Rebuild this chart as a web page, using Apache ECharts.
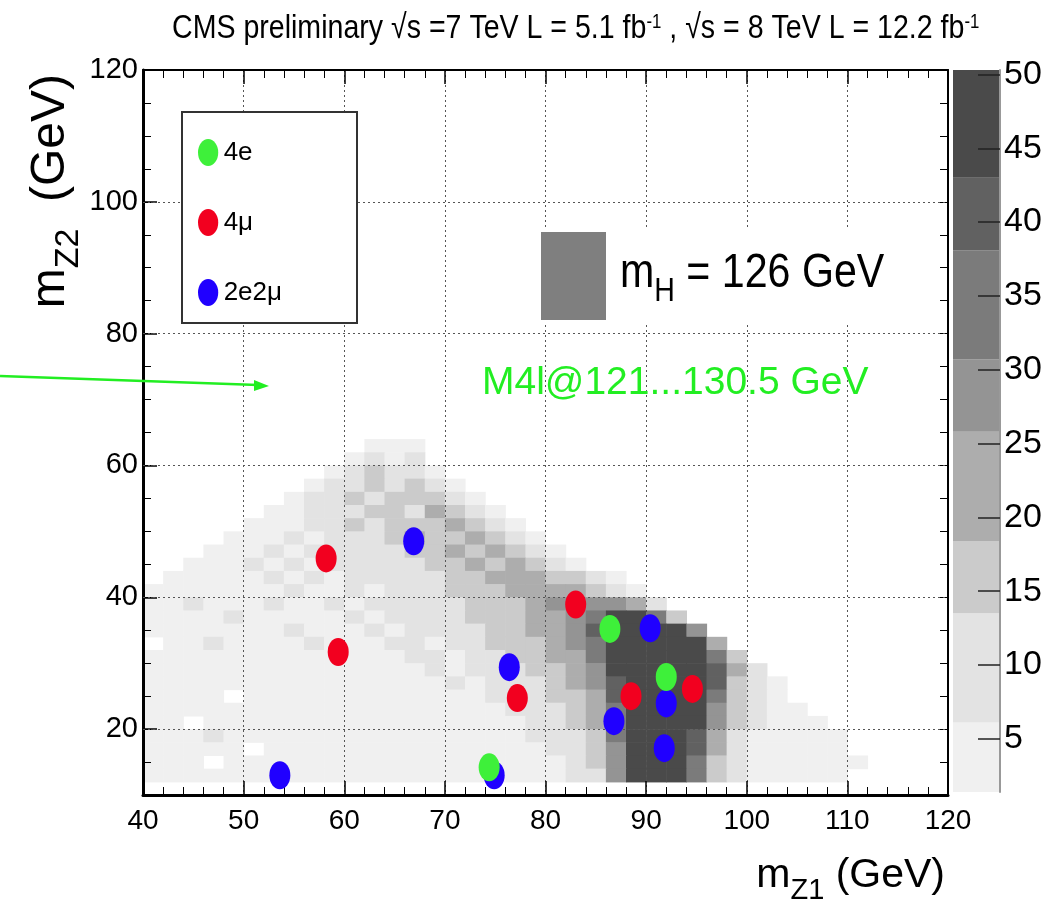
<!DOCTYPE html>
<html><head><meta charset="utf-8">
<script src="https://cdn.jsdelivr.net/npm/echarts@6/dist/echarts.min.js"></script>
<style>html,body{margin:0;padding:0;background:#fff}#c{width:1055px;height:914px}</style>
</head><body><div id="c"></div>
<script>
// ---------------- data ----------------
// 2D histogram (m_Z1, m_Z2), 2x2 GeV bins, contour level code per bin (0 = empty).
// Rows from top (m_Z2 62-64) to bottom (m_Z2 12-14); columns m_Z1 40-42 ... 118-120.
const xBinStart = 40, yBinStart = 12, binW = 2, binH = 2;
const hRows = [
  "0000000000" + "0111000000" + "0000000000" + "0000000000", // 62
  "0000000000" + "1212000000" + "0000000000" + "0000000000", // 60
  "0000000001" + "2322100000" + "0000000000" + "0000000000", // 58
  "0000000012" + "2323210000" + "0000000000" + "0000000000", // 56
  "0000000122" + "3233321000" + "0000000000" + "0000000000", // 54
  "0000001122" + "2332432100" + "0000000000" + "0000000000", // 52
  "0000011122" + "3233343210" + "0000000000" + "0000000000", // 50
  "0000111212" + "2234334321" + "0000000000" + "0000000000", // 48
  "0001112122" + "2223343432" + "1000000000" + "0000000000", // 46
  "0011121212" + "2222334343" + "2100000000" + "0000000000", // 44
  "0111112121" + "2222233444" + "3321000000" + "0000000000", // 42
  "1111111211" + "2122233344" + "4432100000" + "0000000000", // 40
  "1121112112" + "1222223334" + "5555420000" + "0000000000", // 38
  "1111211111" + "2122223334" + "4568863000" + "0000000000", // 36
  "1111111211" + "1212222334" + "4578888500" + "0000000000", // 34
  "0112111121" + "1122122333" + "4568888840" + "0000000000", // 32
  "1111111111" + "1112212233" + "4468888863" + "0000000000", // 30
  "1111111111" + "1111212223" + "3458888874" + "2000000000", // 28
  "1111111111" + "1111121222" + "3457888873" + "2100000000", // 26
  "1111011111" + "1111111222" + "3347888863" + "2100000000", // 24
  "1111111111" + "1111111122" + "2346888853" + "2110000000", // 22
  "1101111111" + "1111111112" + "2346888853" + "2111000000", // 20
  "1112111111" + "1111111112" + "2236888742" + "1111100000", // 18
  "1111101111" + "1111111111" + "2235888742" + "1111100000", // 16
  "1110111111" + "1111111111" + "1235888632" + "1111110000", // 14
  "1111111111" + "1111111111" + "1225888632" + "1111100000"  // 12
];
// colour-scale contour boundaries (events per bin)
const contourLevels = [1.4, 6.1, 13.5, 18.4, 25.8, 30.7, 38.1, 43.0, 50.3];
const zTicks = [5, 10, 15, 20, 25, 30, 35, 40, 45, 50];
const xTicks = [40, 50, 60, 70, 80, 90, 100, 110, 120];
const yTicks = [20, 40, 60, 80, 100, 120];
const yGrid = [20, 40, 60, 80, 100];
// candidate events (m_Z1, m_Z2)
const pts4e = [[86.4, 35.2], [92.0, 27.9], [74.4, 14.2]];
const pts4mu = [[58.2, 45.9], [59.4, 31.7], [83.0, 38.9], [77.2, 24.7], [88.5, 25.0], [94.6, 26.1]];
const pts2e2mu = [[66.9, 48.5], [53.6, 13.0], [74.9, 13.0], [76.4, 29.4], [90.4, 35.3], [86.8, 21.2], [92.0, 23.9], [91.8, 17.1]];
const seriesNames = ['4e', '4\u03bc', '2e2\u03bc'];
const titleText = 'CMS preliminary \u221as =7 TeV L = 5.1 fb{sup|-1} , \u221as = 8 TeV L = 12.2 fb{sup|-1}';

// ---------------- styles ----------------
const levelColors = ['#ffffff', '#f0f0f0', '#e3e3e3', '#cbcbcb', '#adadad', '#949494', '#7b7b7b', '#616161', '#4a4a4a'];
const REG = '"Liberation Sans", Arial, Helvetica, sans-serif';
const ELL = 'path://M0,14 A10.5,14 0 1,1 21,14 A10.5,14 0 1,1 0,14 Z';
const dotColors = ['#3ef03a', '#f2001f', '#2000ff'];
const gridLine = { color: '#555', type: [2, 3], width: 1 };

const cells = [];
hRows.forEach((row, r) => {
  const y0 = yBinStart + (hRows.length - 1 - r) * binH;
  for (let c = 0; c < row.length; c++) {
    const lv = +row[c];
    if (lv > 0) cells.push([xBinStart + c * binW, y0, lv]);
  }
});

const chart = echarts.init(document.getElementById('c'), null, { renderer: 'canvas' });

function subRich(big, small, lh, pad) {
  return {
    m: { fontFamily: REG, fontSize: big, lineHeight: lh, verticalAlign: 'top' },
    s: { fontFamily: REG, fontSize: small, lineHeight: small, padding: [pad, 0, 0, 0], verticalAlign: 'top' },
    g: { fontFamily: REG, fontSize: big, lineHeight: lh, verticalAlign: 'top' }
  };
}

const CB_Y = 3; // index of colour-bar value axis
const colorbarSeries = levelColors.slice(1).map((col, i) => ({
  type: 'bar', xAxisIndex: 2, yAxisIndex: CB_Y, stack: 'cb', barWidth: '100%', silent: true,
  data: [i === 0 ? contourLevels[1] : contourLevels[i + 1] - contourLevels[i]],
  itemStyle: { color: col }
}));

const option = {
  animation: false,
  backgroundColor: '#fff',
  legend: {
    data: seriesNames, orient: 'vertical', left: 193, top: 134, itemGap: 43,
    itemWidth: 21, itemHeight: 27, icon: ELL, selectedMode: false, z: 8,
    textStyle: { fontFamily: REG, fontSize: 26, color: '#000' }
  },
  grid: [
    { left: 143, top: 70, width: 805, height: 725, containLabel: false, outerBoundsMode: 'none' },
    { left: 953, top: 70, width: 47, height: 722, containLabel: false, outerBoundsMode: 'none' }
  ],
  xAxis: [
    {
      gridIndex: 0, type: 'value', min: 40, max: 120, interval: 10, position: 'bottom', z: 3,
      axisLine: { show: true, lineStyle: { color: '#000', width: 3 } },
      axisTick: { show: true, inside: true, length: 14, lineStyle: { color: '#000', width: 1.5 } },
      minorTick: { show: true, splitNumber: 5, length: 8, lineStyle: { color: '#000', width: 1 } },
      axisLabel: { fontFamily: REG, fontSize: 28, color: '#000', margin: 12 },
      splitLine: { show: true, lineStyle: gridLine },
      name: '{m|m}{s|Z1}{g| (GeV)}', nameLocation: 'end', nameGap: -3,
      nameTextStyle: { fontFamily: REG, color: '#000', align: 'right', verticalAlign: 'top', padding: [60, 0, 0, 0],
        rich: subRich(41, 29, 46, 21) }
    },
    {
      gridIndex: 0, type: 'value', min: 40, max: 120, interval: 10, position: 'top', z: 3,
      axisLine: { show: true, lineStyle: { color: '#000', width: 2 } },
      axisTick: { show: true, inside: true, length: 14, lineStyle: { color: '#000', width: 1.5 } },
      minorTick: { show: true, splitNumber: 5, length: 8, lineStyle: { color: '#000', width: 1 } },
      axisLabel: { show: false }, splitLine: { show: false }
    },
    { gridIndex: 1, type: 'category', data: ['z'], show: false }
  ],
  yAxis: [
    {
      gridIndex: 0, type: 'value', min: 10, max: 120, interval: 5, position: 'left', z: 3,
      axisLine: { show: true, lineStyle: { color: '#000', width: 3 } },
      axisTick: { show: true, inside: true, length: 8, lineStyle: { color: '#000', width: 1 } },
      axisLabel: { fontFamily: REG, fontSize: 29, color: '#000', margin: 5,
        formatter: v => (yTicks.indexOf(v) >= 0 ? String(v) : '') },
      splitLine: { show: false },
      name: '{m|m}{s|Z2}{g|  (GeV)}', nameLocation: 'end', nameGap: -4, nameRotate: 90,
      nameTextStyle: { fontFamily: REG, color: '#000', align: 'right', verticalAlign: 'bottom', padding: [0, 0, 62, 0],
        rich: subRich(48, 34, 54, 25) }
    },
    {
      gridIndex: 0, type: 'value', min: 10, max: 120, position: 'left', z: 3,
      axisLine: { show: false },
      axisTick: { show: true, inside: true, length: 14, customValues: yTicks, lineStyle: { color: '#000', width: 1.5 } },
      axisLabel: { show: false }, splitLine: { show: false }
    },
    {
      gridIndex: 0, type: 'value', min: 10, max: 120, interval: 5, position: 'right', z: 3,
      axisLine: { show: true, lineStyle: { color: '#000', width: 2 } },
      axisTick: { show: true, inside: true, length: 8, lineStyle: { color: '#000', width: 1 } },
      axisLabel: { show: false }, splitLine: { show: false }
    },
    {
      gridIndex: 1, type: 'value', min: contourLevels[0], max: contourLevels[contourLevels.length - 1], position: 'right', z: 3,
      axisLine: { show: true, lineStyle: { color: '#999', width: 2 } },
      axisTick: { show: true, inside: true, length: 22, customValues: zTicks, lineStyle: { color: '#222', width: 1.5 } },
      axisLabel: { customValues: zTicks, fontFamily: REG, fontSize: 34, color: '#000', margin: 4 },
      splitLine: { show: false }
    }
  ],
  series: [
    {
      type: 'custom', name: 'hist', xAxisIndex: 0, yAxisIndex: 0, data: cells, z: 2, clip: true, silent: true,
      encode: { x: 0, y: 1 },
      renderItem: (params, api) => {
        const x0 = api.value(0), y0 = api.value(1), lv = api.value(2);
        const a = api.coord([x0, y0 + binH]);
        const b = api.coord([x0 + binW, y0]);
        return { type: 'rect', shape: { x: a[0], y: a[1], width: b[0] - a[0] + 0.6, height: b[1] - a[1] + 0.6 },
          style: { fill: levelColors[lv] } };
      },
      markLine: { silent: true, symbol: 'none', label: { show: false }, lineStyle: gridLine,
        data: yGrid.map(v => ({ yAxis: v })) }
    },
    { type: 'scatter', name: seriesNames[2], data: pts2e2mu, symbol: ELL, symbolSize: [21, 28], z: 10,
      itemStyle: { color: dotColors[2], opacity: 1 } },
    { type: 'scatter', name: seriesNames[1], data: pts4mu, symbol: ELL, symbolSize: [21, 28], z: 11,
      itemStyle: { color: dotColors[1], opacity: 1 } },
    { type: 'scatter', name: seriesNames[0], data: pts4e, symbol: ELL, symbolSize: [21, 28], z: 12,
      itemStyle: { color: dotColors[0], opacity: 1 } }
  ].concat(colorbarSeries),
  graphic: [
    { type: 'text', x: 172, y: 29, z: 8, scaleX: 0.84,
      style: { text: titleText, fill: '#000', fontFamily: REG, fontSize: 34, verticalAlign: 'middle',
        rich: { sup: { fontFamily: REG, fontSize: 20, verticalAlign: 'top', lineHeight: 20 } } } },
    { type: 'rect', left: 181, top: 111, z: 7, shape: { width: 175, height: 211 },
      style: { fill: '#fff', stroke: '#333', lineWidth: 2 } },
    { type: 'rect', left: 536, top: 228, z: 7, shape: { width: 356, height: 94 }, style: { fill: '#fff' } },
    { type: 'rect', left: 541, top: 232, z: 8, shape: { width: 65, height: 88 }, style: { fill: '#7f7f7f' } },
    { type: 'text', x: 620, y: 249, z: 8, scaleX: 0.84,
      style: { text: '{m|m}{h|H}{m| = 126 GeV}', fill: '#000', fontFamily: REG,
        rich: {
          m: { fontFamily: REG, fontSize: 49, lineHeight: 54, verticalAlign: 'top' },
          h: { fontFamily: REG, fontSize: 34, lineHeight: 34, padding: [26, 0, 0, 0], verticalAlign: 'top' }
        } } },
    { type: 'text', x: 482, y: 383, z: 8,
      style: { text: 'M4l@121...130.5 GeV', fill: '#22ee22', fontFamily: REG, fontSize: 39, verticalAlign: 'middle' } },
    { type: 'line', z: 8, shape: { x1: 0, y1: 376, x2: 258, y2: 385 }, style: { stroke: '#22ee22', lineWidth: 2.5 } },
    { type: 'polygon', z: 8, shape: { points: [[269, 386], [254, 380], [254, 391]] }, style: { fill: '#22ee22' } }
  ]
};
chart.setOption(option);
</script>
</body></html>
